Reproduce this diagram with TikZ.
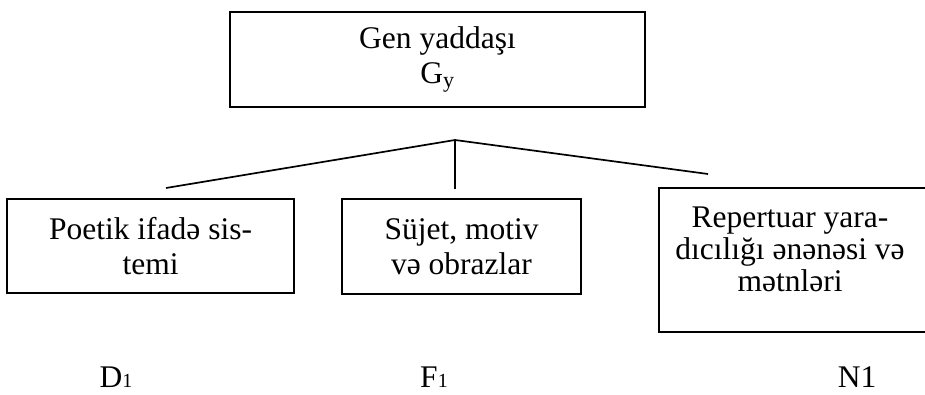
\documentclass[tikz,border=0pt]{standalone}
\usepackage{fontspec}
\setmainfont{Liberation Serif}
\newcommand{\boxfont}{\fontsize{31.5}{35}\selectfont}
\newcommand{\tightfont}{\fontsize{31.5}{32}\selectfont}
\newcommand{\lowidx}[1]{{\fontsize{20}{20}\selectfont #1}}
\begin{document}
\begin{tikzpicture}[x=1pt,y=-1pt,
  box/.style={draw, line width=1.6pt, inner sep=0pt, align=center, font=\boxfont},
  txt/.style={inner sep=0pt, align=center},
  conn/.style={line width=1.7pt}]
\useasboundingbox (0,0) rectangle (925,395);
% boxes
\node[box, minimum width=415pt, minimum height=95pt] (gen) at (437.5,59.5) {Gen yaddaşı\\G\textsubscript{y}};
\node[box, minimum width=287pt, minimum height=94pt] (poet) at (150.5,246) {Poetik ifadə sis-\\temi};
\node[box, minimum width=239pt, minimum height=95pt] (sujet) at (461.5,246.5) {Süjet, motiv\\və obrazlar};
\node[box, minimum width=268pt, minimum height=144pt] (rep) at (793,260) {};
\node[txt, font=\tightfont] (reptext) at (790,249) {Repertuar yara-\\dıcılığı ənənəsi və\\mətnləri};
% connectors
\coordinate (apex) at (455,140);
\coordinate (lend) at (166,188);
\coordinate (rend) at (708,174);
\coordinate (vend) at (455,189);
\draw[conn] (lend) -- (apex) -- (rend);
\draw[conn] (apex) -- (vend);
% labels
\node[txt, font=\boxfont, anchor=base] (d1) at (116,387) {D\lowidx{1}};
\node[txt, font=\boxfont, anchor=base] (f1) at (434,387) {F\lowidx{1}};
\node[txt, font=\boxfont, anchor=base] (n1) at (857,387) {N1};
\end{tikzpicture}
\end{document}
